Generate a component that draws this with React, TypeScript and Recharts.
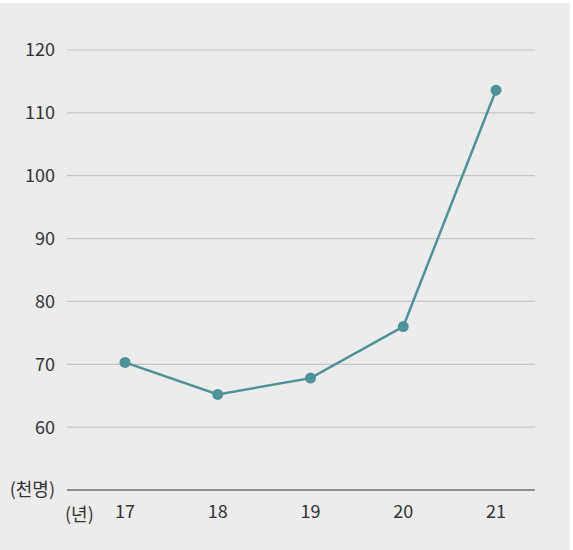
import { CartesianGrid, Label, Line, LineChart, XAxis, YAxis } from 'recharts';

const years = ['17', '18', '19', '20', '21'];
const visitors = [70.3, 65.2, 67.8, 76.0, 113.6];
const yTicks = [50, 60, 70, 80, 90, 100, 110, 120];

const data = years.map((year, i) => ({ year, value: visitors[i] }));

const FONT = '"Noto Sans CJK KR", "Noto Sans", sans-serif';
const TEAL = '#4f9299';

const YearLabel = (props: any) => {
  const { viewBox } = props;
  return (
    <text
      x={viewBox.x - 2}
      y={viewBox.y + 23}
      fill="#333"
      fontSize={18}
      fontFamily={FONT}
      textAnchor="start"
      dominantBaseline="central"
    >
      (년)
    </text>
  );
};

export default function App() {
  return (
    <div style={{ position: 'absolute', left: 0, top: 0, width: 573, height: 550, background: '#fff' }}>
      <div style={{ position: 'absolute', left: 0, top: 3, width: 570, height: 547, background: '#ececec' }}>
        <LineChart width={570} height={547} data={data} margin={{ top: 47, right: 35, bottom: 0, left: 0 }}>
          <CartesianGrid vertical={false} stroke="#c4c4c4" strokeWidth={1.2} />
          <XAxis
            dataKey="year"
            height={60}
            padding={{ left: 58, right: 39 }}
            tickLine={false}
            tickSize={0}
            tickMargin={15}
            axisLine={{ stroke: '#444', strokeWidth: 1.2 }}
            tick={{ fill: '#333', fontSize: 18, fontFamily: FONT }}
          >
            <Label content={<YearLabel />} />
          </XAxis>
          <YAxis
            width={67}
            domain={[50, 120]}
            ticks={yTicks}
            interval={0}
            axisLine={false}
            tickLine={false}
            tickSize={0}
            tickMargin={12}
            tick={{ fill: '#333', fontSize: 18, fontFamily: FONT }}
            tickFormatter={(v: number) => (v === 50 ? '(천명)' : `${v}`)}
          />
          <Line
            type="linear"
            dataKey="value"
            stroke={TEAL}
            strokeWidth={2.5}
            dot={{ r: 5.5, fill: TEAL, stroke: TEAL, strokeWidth: 0 }}
            isAnimationActive={false}
          />
        </LineChart>
      </div>
    </div>
  );
}
